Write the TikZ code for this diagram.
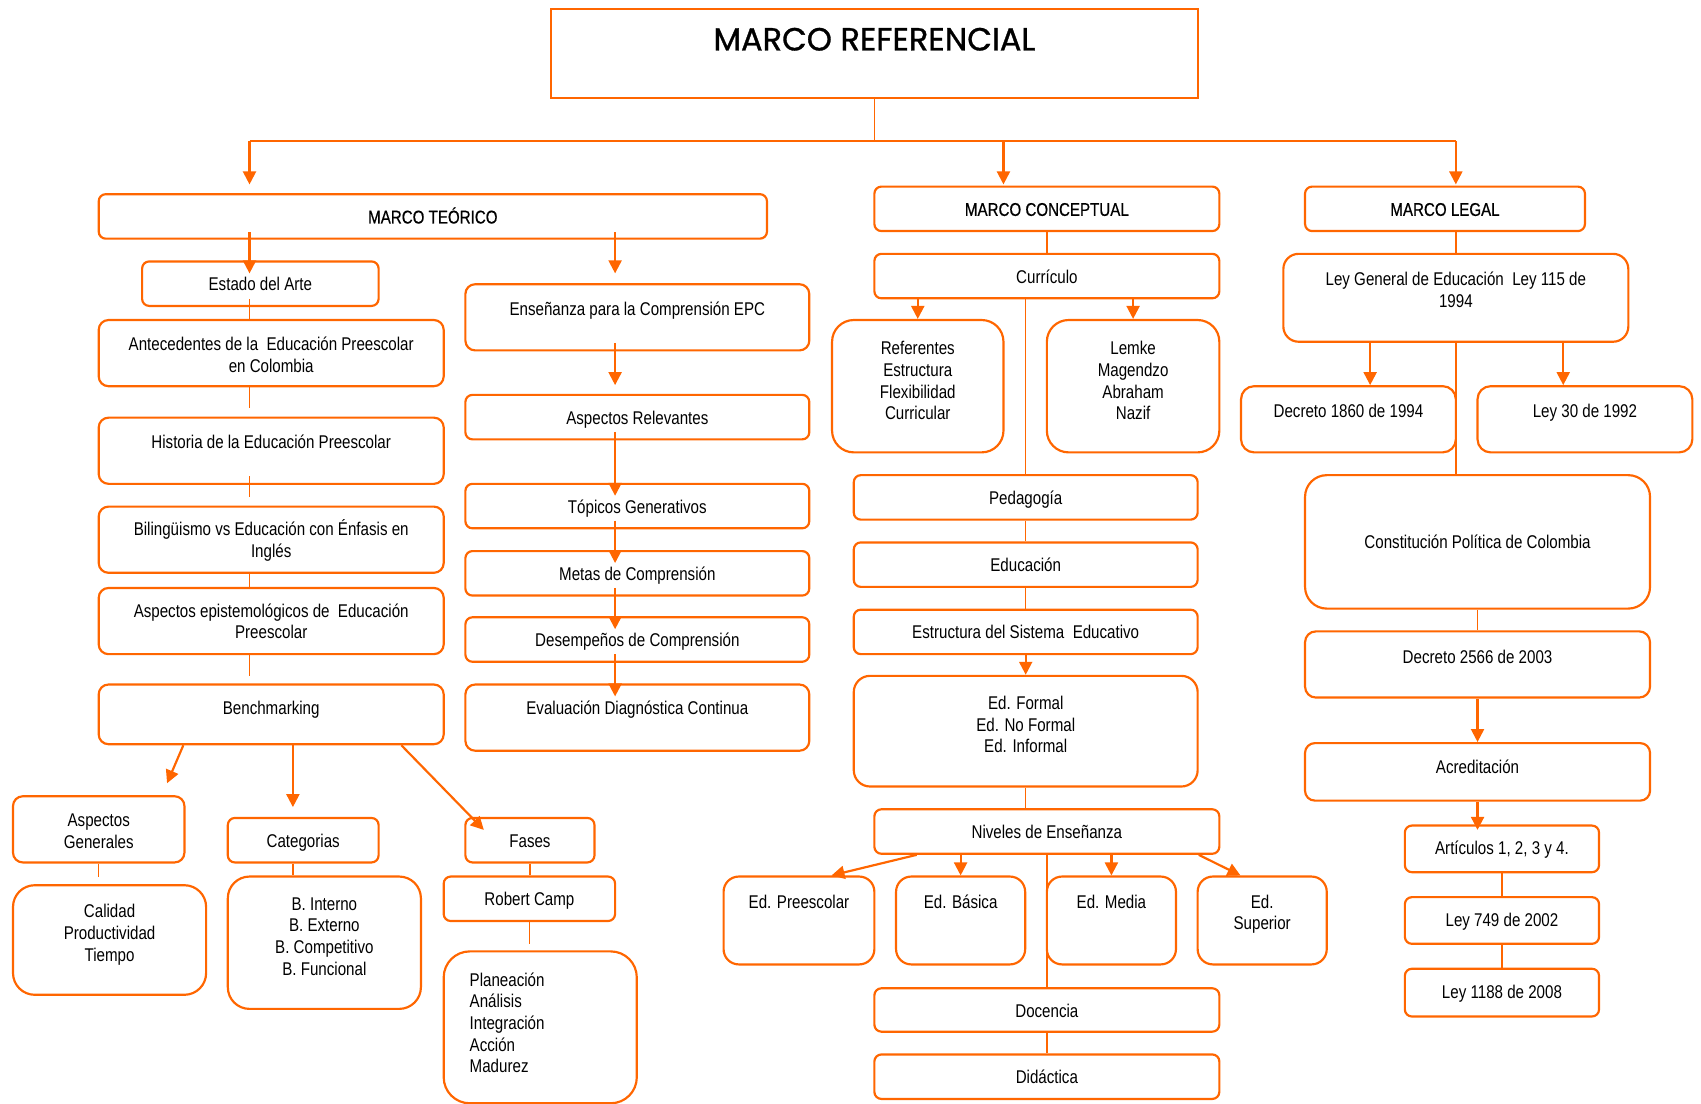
\documentclass[tikz,border=0pt]{standalone}
\usepackage{fontspec}
\setmainfont{Liberation Sans}[FakeStretch=0.82]
\newfontfamily\headfont{Liberation Sans}[FakeStretch=0.82,FakeBold=0.6]
\newfontfamily\titlefont{Poppins}[FakeBold=1]
\usetikzlibrary{arrows.meta}
\definecolor{orng}{RGB}{255,102,0}

\begin{document}
\begin{tikzpicture}[
  x=1pt, y=-1pt,
  box/.style={draw=orng,line width=2pt,rounded corners=6.5pt,fill=white,text=black,
    align=center,inner sep=0pt,anchor=north,font=\fontsize{17pt}{20pt}\selectfont},
  dim/.style n args={3}{minimum width=#1pt,text height=#2pt,text depth=#3pt},
  one/.style={dim={#1}{27}{14}},
  head/.style={font=\headfont\fontsize{17pt}{20pt}\selectfont},
  wire/.style={draw=orng,line width=1.4pt},
  arr/.style={wire,line width=2pt,-{Triangle[length=12pt,width=12pt]}}
]
  \useasboundingbox (0,0) rectangle (1568,1017);

  \node[box,rounded corners=0pt,dim={596}{38.5}{43.5},
    font=\titlefont\fontsize{29.5pt}{35pt}\selectfont] (title) at (806,7) {MARCO REFERENCIAL};

  % marco teorico
  \node[box,head,one=616] (teo) at (399,178) {MARCO TEÓRICO};
  \node[box,one=218] (estado) at (240,240) {Estado del Arte};
  \node[box,dim={318}{48}{13},rounded corners=9pt] (ante) at (250,294) {Antecedentes de la~~Educación Preescolar\\en Colombia};
  \node[box,dim={318}{28}{33},rounded corners=9pt] (hist) at (250,384) {Historia de la Educación Preescolar};
  \node[box,dim={318}{47}{14},rounded corners=9pt] (bili) at (250,466) {Bilingüismo vs Educación con Énfasis en\\Inglés};
  \node[box,dim={318}{47}{14},rounded corners=9pt] (epis) at (250,541) {Aspectos epistemológicos de~~Educación\\Preescolar};
  \node[box,dim={318}{28}{27},rounded corners=9pt] (bench) at (250,630) {Benchmarking};
  \node[box,dim={158}{48}{13},rounded corners=9pt] (asgen) at (91,733) {Aspectos\\Generales};
  \node[box,dim={178}{70}{31},rounded corners=20pt] (calid) at (101,815) {Calidad\\Productividad\\Tiempo};
  \node[box,one=139] (categ) at (279.5,753) {Categorias};
  \node[box,dim={178}{91}{31},rounded corners=20pt] (binter) at (299,807) {B. Interno\\B. Externo\\B. Competitivo\\B. Funcional};
  \node[box,one=119] (fases) at (488.5,753) {Fases};
  \node[box,one=158] (robert) at (488,807) {Robert Camp};
  \node[box,dim={178}{32}{108},rounded corners=24pt,align=left,text width=130pt,inner xsep=24pt] (plan) at (498,876) {Planeación\\Análisis\\Integración\\Acción\\Madurez};

  \node[box,dim={317}{29}{32},rounded corners=9pt] (epc) at (587.5,261) {Enseñanza para la Comprensión EPC};
  \node[box,one=317] (asprel) at (587.5,363) {Aspectos Relevantes};
  \node[box,one=317] (topic) at (587.5,445) {Tópicos Generativos};
  \node[box,one=317] (metas) at (587.5,507) {Metas de Comprensión};
  \node[box,one=317] (desem) at (587.5,568) {Desempeños de Comprensión};
  \node[box,dim={317}{28}{33},rounded corners=9pt] (evalu) at (587.5,630) {Evaluación Diagnóstica Continua};

  % marco conceptual
  \node[box,head,one=318] (conc) at (965,171) {MARCO CONCEPTUAL};
  \node[box,one=318] (curri) at (965,233) {Currículo};
  \node[box,dim={158}{92}{30},rounded corners=20pt] (refer) at (846,294) {Referentes\\Estructura\\Flexibilidad\\Curricular};
  \node[box,dim={159}{92}{30},rounded corners=20pt] (lemke) at (1044.5,294) {Lemke\\Magendzo\\Abraham\\Nazif};
  \node[box,one=317] (pedag) at (945.5,437) {Pedagogía};
  \node[box,one=317] (educ) at (945.5,499) {Educación};
  \node[box,one=317] (estru) at (945.5,561) {Estructura del Sistema~~Educativo};
  \node[box,dim={317}{71}{31},rounded corners=15pt] (formal) at (945.5,622) {Ed. Formal\\Ed. No Formal\\Ed. Informal};
  \node[box,one=318] (nivel) at (965,745) {Niveles de Enseñanza};
  \node[box,dim={139}{29}{52},rounded corners=14pt] (preesc) at (736.5,807) {Ed. Preescolar};
  \node[box,dim={119}{29}{52},rounded corners=14pt] (basica) at (885.5,807) {Ed. Básica};
  \node[box,dim={119}{29}{52},rounded corners=14pt] (media) at (1024.5,807) {Ed. Media};
  \node[box,dim={119}{49}{32},rounded corners=14pt] (super) at (1163.5,807) {Ed.\\Superior};
  \node[box,dim={318}{27}{13}] (docen) at (965,910) {Docencia};
  \node[box,one=318] (didac) at (965,971) {Didáctica};

  % marco legal
  \node[box,head,one=258] (legal) at (1332,171) {MARCO LEGAL};
  \node[box,dim={318}{49}{32},rounded corners=14pt] (leygen) at (1342,233) {Ley General de Educación~~Ley 115 de\\1994};
  \node[box,dim={198}{29}{32},rounded corners=12pt] (dec1860) at (1243,355) {Decreto 1860 de 1994};
  \node[box,dim={198}{29}{32},rounded corners=12pt] (ley30) at (1461,355) {Ley 30 de 1992};
  \node[box,dim={318}{68}{55},rounded corners=20pt] (const) at (1362,437) {Constitución Política de Colombia};
  \node[box,dim={318}{30}{31},rounded corners=10pt] (dec2566) at (1362,581) {Decreto 2566 de 2003};
  \node[box,dim={318}{28}{25},rounded corners=9pt] (acred) at (1362,684) {Acreditación};
  \node[box,dim={179}{27}{16}] (artic) at (1384.5,760) {Artículos 1, 2, 3 y 4.};
  \node[box,dim={179}{27}{16}] (ley749) at (1384.5,826) {Ley 749 de 2002};
  \node[box,dim={179}{27}{17}] (ley1188) at (1384.5,892) {Ley 1188 de 2008};

  \coordinate (bar) at (806,130);
  \coordinate (spA) at (230,0);
  \coordinate (spB) at (567,0);
  \coordinate (spC) at (925,0);

  % top level
  \draw[wire] (title) -- (bar);
  \draw[wire] (bar -| spA) -- (bar -| leygen);
  \draw[arr] (bar -| spA) -- ([yshift=8pt]teo.north -| spA);
  \draw[arr] (bar -| spC) -- ([yshift=1pt]conc.north -| spC);
  \draw[arr] (bar -| leygen) -- ([yshift=1pt]legal.north -| leygen);

  % left spine
  \draw[arr] ([yshift=7pt]teo.south -| spA) -- ([yshift=-12pt]estado.north -| spA);
  \draw[wire] ([yshift=7pt]estado.south -| spA) -- (ante.north -| spA);
  \draw[wire] (ante.south -| spA) -- ([yshift=8pt]hist.north -| spA);
  \draw[wire] ([yshift=8pt]hist.south -| spA) -- ([yshift=8pt]bili.north -| spA);
  \draw[wire] (bili.south -| spA) -- (epis.north -| spA);
  \draw[wire] (epis.south -| spA) -- ([yshift=7pt]bench.north -| spA);
  \draw[arr] ([xshift=79pt]bench.south west) -- ([xshift=-17pt,yshift=11pt]asgen.north east);
  \draw[arr] ([xshift=-9.5pt]categ.north |- bench.south) -- ([xshift=-9.5pt,yshift=9pt]categ.north);
  \draw[arr] ([xshift=-40pt]bench.south east) -- ([xshift=18pt,yshift=-12pt]fases.north west);
  \draw[wire] (asgen.south) -- ([yshift=7pt]calid.north -| asgen.south);
  \draw[wire] ([xshift=-9.5pt]categ.south) -- ([xshift=-9.5pt]categ.south |- binter.north);
  \draw[wire] (fases.south) -- (fases.south |- robert.north);
  \draw[wire] (robert.south) -- ([yshift=6pt]plan.north -| robert.south);

  % EPC chain
  \draw[arr] ([yshift=7pt]teo.south -| spB) -- ([yshift=9pt]epc.north -| spB);
  \draw[arr] ([yshift=8pt]epc.south -| spB) -- ([yshift=8pt]asprel.north -| spB);
  \foreach \a/\b in {asprel/topic,topic/metas,metas/desem,desem/evalu}
    \draw[arr] ([yshift=8pt]\a.south -| spB) -- ([yshift=-12pt]\b.north -| spB);

  % conceptual
  \draw[wire] (conc) -- (curri);
  \draw[arr] (curri.south -| refer.north) -- (refer.north);
  \draw[arr] (curri.south -| lemke.north) -- (lemke.north);
  \draw[wire] (curri.south -| pedag.north) -- (pedag.north);
  \draw[wire] (pedag) -- (educ);
  \draw[wire] (educ) -- (estru);
  \draw[arr] (estru) -- (formal);
  \draw[wire] (formal.south) -- (formal.south |- nivel.north);
  \draw[arr] ([xshift=40pt]nivel.south west) -- ([xshift=30pt]preesc.north);
  \draw[arr] (nivel.south -| basica.north) -- (basica.north);
  \draw[arr] (nivel.south -| media.north) -- (media.north);
  \draw[arr] ([xshift=-20pt]nivel.south east) -- ([xshift=-20pt]super.north);
  \draw[wire] (nivel) -- (docen);
  \draw[wire] (docen) -- (didac);

  % legal
  \draw[wire] (legal.south -| leygen.north) -- (leygen.north);
  \draw[arr] ([xshift=20pt]dec1860.north |- leygen.south) -- ([xshift=20pt]dec1860.north);
  \draw[arr] ([xshift=-20pt]ley30.north |- leygen.south) -- ([xshift=-20pt]ley30.north);
  \draw[wire] (leygen.south) -- (leygen.south |- const.north);
  \draw[wire] (const) -- (dec2566);
  \draw[arr] (dec2566) -- (acred);
  \draw[arr] (acred.south) -- ([yshift=-5pt]artic.north -| acred.south);
  \draw[wire] (artic) -- (ley749);
  \draw[wire] (ley749) -- (ley1188);
\end{tikzpicture}
\end{document}
